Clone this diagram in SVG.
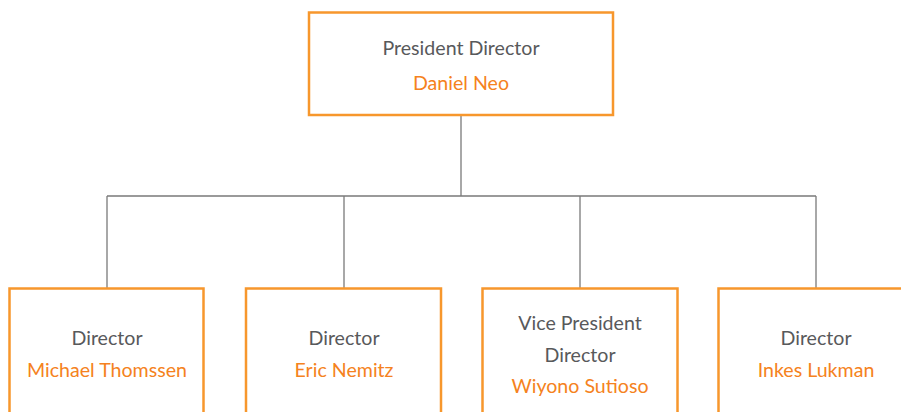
<svg xmlns="http://www.w3.org/2000/svg" width="901" height="412" viewBox="0 0 901 412">
<style>
.box{fill:#fff;stroke:#F7972C;stroke-width:2.5}
.t{font-family:Lato,"Open Sans",sans-serif;font-size:19.6px;text-anchor:middle}
.g{fill:#58595B}
.o{fill:#F58220}
.c{fill:none;stroke:#7A7A7A;stroke-width:1.3}
</style>
<rect width="901" height="412" fill="#fff"/>
<g id="connectors">
<path class="c" d="M461 115V196M107 196H816M107 196V288M344 196V288M580 196V288M816 196V288"/>
</g>
<g id="president">
<rect class="box" x="309" y="12.5" width="304" height="102.5"/>
<text class="t g" x="461" y="55">President Director</text>
<text class="t o" x="461" y="90">Daniel Neo</text>
</g>
<g id="michael">
<rect class="box" x="9.5" y="288.5" width="194" height="140"/>
<text class="t g" x="107" y="345">Director</text>
<text class="t o" x="107" y="377">Michael Thomssen</text>
</g>
<g id="eric">
<rect class="box" x="246" y="288.5" width="195" height="140"/>
<text class="t g" x="344" y="345">Director</text>
<text class="t o" x="344" y="377">Eric Nemitz</text>
</g>
<g id="wiyono">
<rect class="box" x="482.5" y="288.5" width="195" height="140"/>
<text class="t g" x="580" y="330">Vice President</text>
<text class="t g" x="580" y="362">Director</text>
<text class="t o" x="580" y="393">Wiyono Sutioso</text>
</g>
<g id="inkes">
<rect class="box" x="718.5" y="288.5" width="195" height="140"/>
<text class="t g" x="816" y="345">Director</text>
<text class="t o" x="816" y="377">Inkes Lukman</text>
</g>
</svg>
